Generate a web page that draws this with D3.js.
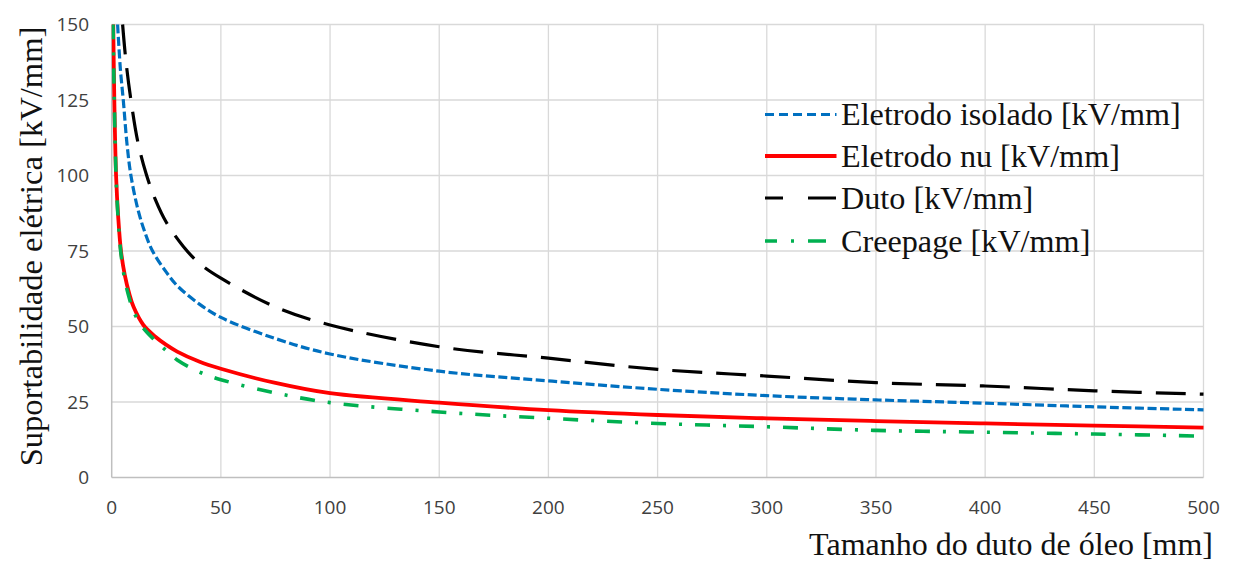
<!DOCTYPE html>
<html>
<head>
<meta charset="utf-8">
<script src="https://cdn.jsdelivr.net/npm/d3@7"></script>
<style>
  body { margin: 0; background: #fff; }
  .tick-label { font-family: "Open Sans", sans-serif; font-size: 19px; fill: #404040; }
  .serif { font-family: "Liberation Serif", "Times New Roman", serif; fill: #111; }
</style>
</head>
<body>
<div id="chart"></div>
<script>
// values (distance in mm, strength in kV/mm)
var isoladoX = [2.7, 4, 5.3, 7, 8.8, 12, 15, 18.7, 25, 30, 40, 50, 75, 100, 150, 200, 250, 300, 350, 400, 450, 500];
var isoladoY = [150, 135, 125, 110.5, 100, 88.8, 81.6, 75, 68, 63.5, 57.5, 53, 46, 40.9, 35.2, 32.0, 29.2, 27.1, 25.7, 24.6, 23.4, 22.4];

var nuX = [0.7, 1.2, 2, 3, 4.25, 6, 8, 10, 14.5, 20, 25, 30, 40, 50, 75, 100, 150, 200, 250, 300, 350, 400, 450, 500];
var nuY = [150, 125, 100, 86, 75, 67, 61, 56.5, 50.5, 46.6, 43.9, 41.7, 38.4, 36.0, 31.3, 27.9, 24.8, 22.3, 20.7, 19.6, 18.7, 17.9, 17.2, 16.5];

var dutoX = [5, 6.5, 8.8, 12, 15.8, 20, 25, 32.8, 40, 50, 75, 100, 150, 200, 250, 300, 350, 400, 450, 500];
var dutoY = [150, 138, 125, 111, 100.5, 92, 84.5, 76.5, 71, 66, 56.5, 50.5, 43.3, 39.5, 35.8, 33.6, 31.4, 30.3, 28.7, 27.6];

var creepX = [0.6, 1.2, 2, 3, 4.25, 6, 8, 10, 14.5, 20, 25, 30, 40, 50, 75, 100, 150, 200, 250, 300, 350, 400, 450, 500];
var creepY = [150, 124, 99.5, 85, 74, 65.5, 59.5, 55, 49.5, 45.3, 42.0, 38.9, 35.0, 32.4, 28.0, 24.8, 21.7, 19.6, 17.9, 16.8, 15.6, 15.0, 14.4, 13.7];

var xTicks = [0, 50, 100, 150, 200, 250, 300, 350, 400, 450, 500];
var yTicks = [0, 25, 50, 75, 100, 125, 150];

var seriesNames = ["Eletrodo isolado [kV/mm]", "Eletrodo nu [kV/mm]", "Duto [kV/mm]", "Creepage [kV/mm]"];

var series = [
  { name: seriesNames[0], xs: isoladoX, ys: isoladoY, color: "#0070C0", width: 3.2, dash: "9,3.5", legendDash: "9,5" },
  { name: seriesNames[1], xs: nuX, ys: nuY, color: "#FF0000", width: 3.8, dash: null, legendDash: null },
  { name: seriesNames[2], xs: dutoX, ys: dutoY, color: "#000000", width: 3.2, dash: "30,14", legendDash: "18,25,28" },
  { name: seriesNames[3], xs: creepX, ys: creepY, color: "#00B050", width: 3.6, dash: "15,13,3,13", legendDash: "12,14,3,14,18" }
];

var svg_width = 1233, svg_height = 561;
var plotLeft = 111.7, plotRight = 1203.5, plotTop = 24.5, plotBottom = 477.5;

var svg = d3.select("#chart").append("svg")
    .attr("width", svg_width)
    .attr("height", svg_height);

var x = d3.scaleLinear().domain([0, 500]).range([plotLeft, plotRight]);
var y = d3.scaleLinear().domain([0, 150]).range([plotBottom, plotTop]);

// gridlines
svg.append("g").selectAll("line")
  .data(xTicks.slice(1))
  .join("line")
    .attr("x1", d => x(d)).attr("x2", d => x(d))
    .attr("y1", plotTop).attr("y2", plotBottom)
    .attr("stroke", "#D9D9D9").attr("stroke-width", 1.3);
svg.append("g").selectAll("line")
  .data(yTicks.slice(1))
  .join("line")
    .attr("x1", plotLeft).attr("x2", plotRight)
    .attr("y1", d => y(d)).attr("y2", d => y(d))
    .attr("stroke", "#D9D9D9").attr("stroke-width", 1.3);

// axis lines
svg.append("line").attr("x1", plotLeft).attr("x2", plotLeft).attr("y1", plotTop).attr("y2", plotBottom)
  .attr("stroke", "#BFBFBF").attr("stroke-width", 1.5);
svg.append("line").attr("x1", plotLeft).attr("x2", plotRight).attr("y1", plotBottom).attr("y2", plotBottom)
  .attr("stroke", "#BFBFBF").attr("stroke-width", 1.5);

// tick labels
svg.append("g").selectAll("text")
  .data(yTicks)
  .join("text")
    .attr("class", "tick-label")
    .attr("x", 89)
    .attr("y", d => y(d))
    .attr("dy", "0.36em")
    .attr("text-anchor", "end")
    .text(d => d);
svg.append("g").selectAll("text")
  .data(xTicks)
  .join("text")
    .attr("class", "tick-label")
    .attr("x", d => x(d))
    .attr("y", 514)
    .attr("text-anchor", "middle")
    .text(d => d);

// axis titles
svg.append("text")
  .attr("class", "serif")
  .attr("transform", "translate(41.5,246.5) rotate(-90)")
  .attr("text-anchor", "middle")
  .style("font-size", "32.6px")
  .text("Suportabilidade elétrica [kV/mm]");
svg.append("text")
  .attr("class", "serif")
  .attr("x", 1213)
  .attr("y", 555)
  .attr("text-anchor", "end")
  .style("font-size", "32px")
  .text("Tamanho do duto de óleo [mm]");

// curves
svg.append("clipPath").attr("id", "plot-clip")
  .append("rect").attr("x", plotLeft).attr("y", plotTop - 1)
  .attr("width", plotRight - plotLeft + 2).attr("height", plotBottom - plotTop + 1);

var line = d3.line()
    .x(d => x(d[0]))
    .y(d => y(d[1]))
    .curve(d3.curveCatmullRom.alpha(0.5));

var g_lines = svg.append("g").attr("clip-path", "url(#plot-clip)");
series.forEach(function(s) {
  var pts = s.xs.map((v, i) => [v, s.ys[i]]);
  g_lines.append("path")
    .datum(pts)
    .attr("d", line)
    .attr("fill", "none")
    .attr("stroke", s.color)
    .attr("stroke-width", s.width)
    .attr("stroke-dasharray", s.dash);
});

// legend
var legendRows = [114.5, 156, 198, 241];
var g_legend = svg.append("g");
series.forEach(function(s, i) {
  g_legend.append("line")
    .attr("x1", 765).attr("x2", i == 3 ? 826 : 836.5)
    .attr("y1", legendRows[i]).attr("y2", legendRows[i])
    .attr("stroke", s.color)
    .attr("stroke-width", s.width)
    .attr("stroke-dasharray", s.legendDash);
  g_legend.append("text")
    .attr("class", "serif")
    .attr("x", 841)
    .attr("y", legendRows[i])
    .attr("dy", "0.33em")
    .style("font-size", "32.2px")
    .text(s.name);
});
</script>
</body>
</html>
